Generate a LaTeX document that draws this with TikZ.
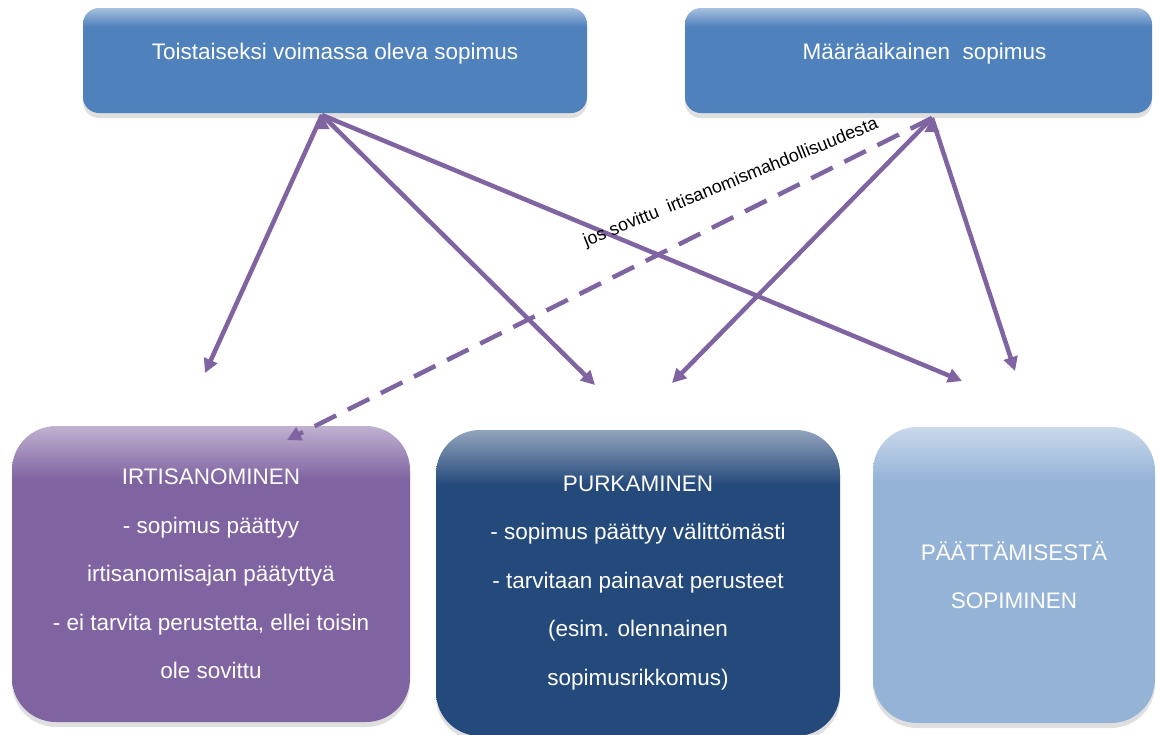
\documentclass[tikz,border=0pt]{standalone}
\usepackage{fontspec}
\setmainfont{Liberation Sans}
\usetikzlibrary{arrows.meta,shadows}

\definecolor{sopblue}{HTML}{4F81BD}
\definecolor{irtpurple}{HTML}{8064A2}
\definecolor{purnavy}{HTML}{24497B}
\definecolor{paatblue}{HTML}{95B3D7}
\colorlet{boxc}{sopblue}
\pgfdeclareverticalshading[boxc]{glow}{100bp}{color(0bp)=(boxc); color(66bp)=(boxc);
  color(75bp)=(boxc!50!white); color(100bp)=(boxc!50!white)}

\begin{document}
\begin{tikzpicture}[x=1pt,y=-1pt,>={Triangle[length=14pt,width=14pt]},
    box/.style={inner sep=0pt,align=center,text=white,shading=glow,
      /utils/exec={\colorlet{boxc}{#1}},
      font=\fontsize{22.5}{48.5}\selectfont,
      drop shadow={shadow xshift=0pt,shadow yshift=-5pt,opacity=0.25}},
    sopimus/.style={box=sopblue,rounded corners=16pt,minimum height=105pt,text depth=18pt},
    tapa/.style={box=#1,rounded corners=44pt,minimum height=296pt},
    link/.style={->,draw=irtpurple,fill=irtpurple,line width=4.5pt}]
    \useasboundingbox (0,0) rectangle (1161,734);
    % lower boxes
    \node[tapa=irtpurple,minimum width=398pt]
      (irt) at (211,574) {IRTISANOMINEN\\- sopimus päättyy\\irtisanomisajan päätyttyä\\- ei tarvita perustetta, ellei toisin\\ole sovittu};
    \node[tapa=purnavy,minimum width=404pt,minimum height=306pt]
      (pur) at (638,583) {PURKAMINEN\\- sopimus päättyy välittömästi\\- tarvitaan painavat perusteet\\(esim. olennainen\\sopimusrikkomus)};
    \node[tapa=paatblue,minimum width=282pt]
      (paat) at (1014,575) {PÄÄTTÄMISESTÄ\\SOPIMINEN};
    % upper boxes
    \node[sopimus,minimum width=504pt] (toist) at (335,60.5) {Toistaiseksi voimassa oleva sopimus};
    \node[sopimus,minimum width=467pt] (maara) at (918.5,60.5) {\hspace*{12pt}Määräaikainen\ \ sopimus};
    \coordinate (toist-foot) at (322,115);
    \coordinate (maara-foot) at (932,118);
    \coordinate (irt-in) at (205,373);
    \coordinate (irt-top) at (287,440);
    \coordinate (pur-in1) at (595,385);
    \coordinate (pur-in2) at (672,383);
    \coordinate (paat-in1) at (962,381);
    \coordinate (paat-in2) at (1015,371);
    \draw[link] (toist-foot) edge (irt-in) edge (pur-in1) edge (paat-in1);
    \draw[link] (maara-foot) edge (pur-in2) edge (paat-in2)
      edge[dash pattern=on 24pt off 13pt] (irt-top);
    \node[rotate=22,font=\fontsize{18}{20}\selectfont] (ehto) at (731,183) {jos sovittu\ \ irtisanomismahdollisuudesta};
  \end{tikzpicture}
\end{document}
